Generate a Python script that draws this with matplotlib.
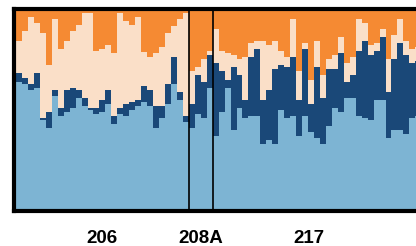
import numpy as np
import matplotlib
matplotlib.use('Agg')
import matplotlib.pyplot as plt

# Colores de los cuatro grupos (de abajo hacia arriba)
c_light = '#7DB4D3'
c_dark = '#1A4878'
c_peach = '#FADFC8'
c_orange = '#F58A33'

# Limites acumulados de cada individuo (tope del azul claro, del azul oscuro y del durazno)
pop_names = ['206', '208A', '217']

top_light_206 = [.64, .63, .60, .61, .45, .41, .57, .47, .49, .51, .56, .52, .50, .48, .49,
                 .53, .43, .48, .47, .50, .52, .54, .52, .41, .46, .53, .63, .55, .44]
top_dark_206 = [.68, .66, .63, .68, .46, .49, .60, .51, .60, .61, .60, .56, .51, .51, .55,
                .60, .47, .51, .53, .54, .55, .62, .60, .52, .52, .63, .76, .59, .47]
top_peach_206 = [.84, .89, .96, .93, .88, .72, .95, .80, .84, .89, .92, .98, .98, .79, .80,
                 .82, .78, .98, .94, .92, .96, .785, .76, .78, .81, .88, .915, .95, .98]

top_light_208 = [.41, .48, .46, .61]
top_dark_208 = [.53, .67, .64, .77]
top_peach_208 = [.69, .71, .75, .79]

top_light_217 = [.37, .49, .61, .40, .51, .46, .47, .47, .33, .35, .33, .50, .46, .47, .37,
                 .47, .39, .36, .33, .42, .51, .49, .56, .56, .47, .46, .45, .55, .55, .36,
                 .40, .40, .38, .46, .47]
top_dark_217 = [.73, .69, .65, .71, .67, .55, .76, .80, .55, .60, .70, .72, .71, .76, .55,
                .80, .53, .71, .56, .70, .70, .78, .64, .67, .79, .84, .77, .79, .86, .59,
                .75, .83, .77, .73, .74]
top_peach_217 = [.90, .79, .78, .77, .75, .76, .83, .84, .84, .82, .84, .79, .76, .95, .69,
                 .83, .65, .84, .67, .75, .77, .86, .73, .76, .95, .93, .82, .83, .90, .75,
                 .87, .95, .84, .80, .81]

top_light = np.array(top_light_206 + top_light_208 + top_light_217)
top_dark = np.array(top_dark_206 + top_dark_208 + top_dark_217)
top_peach = np.array(top_peach_206 + top_peach_208 + top_peach_217)
n_pop = [len(top_light_206), len(top_light_208), len(top_light_217)]

x = np.arange(len(top_light))

fig = plt.figure(figsize=(4.16, 2.46), dpi=100)
ax = fig.add_axes([0.03365, 0.1443, 0.979, 0.8191])

ax.bar(x, top_light, width=1, align='edge', color=c_light, linewidth=0)
ax.bar(x, top_dark - top_light, bottom=top_light, width=1, align='edge', color=c_dark, linewidth=0)
ax.bar(x, top_peach - top_dark, bottom=top_dark, width=1, align='edge', color=c_peach, linewidth=0)
ax.bar(x, 1 - top_peach, bottom=top_peach, width=1, align='edge', color=c_orange, linewidth=0)

# Lineas que separan las poblaciones
limites = np.cumsum(n_pop)[:-1]
for b in limites:
    ax.axvline(b, color='black', linewidth=1.2)

ax.set_xlim(-0.34, 68)
ax.set_ylim(0, 1)
for s in ax.spines.values():
    s.set_linewidth(3)

tick_pos = [14.5, 31, 49.2]
ax.set_xticks(tick_pos)
ax.set_xticklabels(pop_names, fontsize=13.5, fontweight='bold', family='Liberation Sans')
ax.set_yticks([])
ax.tick_params(axis='x', length=0, pad=14)

plt.savefig('out.png', dpi=100)
